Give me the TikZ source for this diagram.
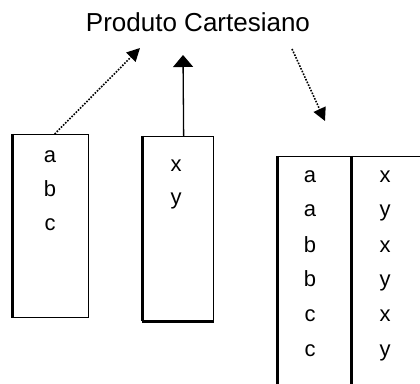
\documentclass[tikz,border=0pt]{standalone}
\usepackage{fontspec}
\setmainfont{Liberation Sans}
\usetikzlibrary{arrows.meta,calc}
\begin{document}
\begin{tikzpicture}[x=1pt,y=1pt,
  box/.style={draw, line width=1.3pt, rectangle, inner sep=0pt, anchor=north west},
  thickedge/.style={line width=3pt},
  lett/.style={font=\fontsize{22}{22}\selectfont, anchor=base, inner sep=0pt},
  dotarrow/.style={line width=1.6pt, dash pattern=on 1.6pt off 1.4pt, -{Triangle[length=13pt,width=13pt]}},
  solidarrow/.style={line width=1.3pt, -{Triangle[length=12pt,width=20pt]}},
]
\useasboundingbox (0,0) rectangle (420,383);
\fill[white] (0,0) rectangle (420,383);
\node[font=\fontsize{26}{26}\selectfont, anchor=base, inner sep=0pt] (title) at (198,351) {Produto Cartesiano};
% left box
\node[box, minimum width=76pt, minimum height=183pt] (box1) at (12,249) {};
\draw[thickedge] (box1.north west) -- (box1.south west);
\node[lett] (b1a) at (50,220) {a};
\node[lett] (b1b) at (50,186) {b};
\node[lett] (b1c) at (50,152) {c};
% middle box
\node[box, minimum width=71pt, minimum height=184pt] (box2) at (142,247) {};
\draw[thickedge] (box2.north west) -- (box2.south west);
\draw[thickedge] (box2.south west) -- (box2.south east);
\node[lett] (b2x) at (176,211) {x};
\node[lett] (b2y) at (176,178) {y};
% table
\begin{scope}
\clip (0,0) rectangle (420,383);
\node[box, minimum width=200pt, minimum height=260pt] (tab) at (277,227) {};
\draw[thickedge] (tab.north west) -- (tab.south west);
\draw[thickedge] ($(tab.north west)+(74,0)$) coordinate (dtop) -- ($(tab.south west)+(74,0)$);
\end{scope}
\node[lett] (r1a) at (310,200) {a};
\node[lett] (r2a) at (310,166) {a};
\node[lett] (r3a) at (310,131) {b};
\node[lett] (r4a) at (310,96) {b};
\node[lett] (r5a) at (310,62) {c};
\node[lett] (r6a) at (310,27) {c};
\node[lett] (r1b) at (385,200) {x};
\node[lett] (r2b) at (385,166) {y};
\node[lett] (r3b) at (385,131) {x};
\node[lett] (r4b) at (385,96) {y};
\node[lett] (r5b) at (385,62) {x};
\node[lett] (r6b) at (385,27) {y};
% arrows
\coordinate (t1) at (140,335);
\draw[dotarrow] ($(box1.north)+(4,0)$) -- (t1);
\coordinate (t2) at (183,328);
\draw[solidarrow] ($(box2.north)+(5.5,0)$) -- (t2);
\coordinate (s3) at (292,334);
\coordinate (t3) at (325,262);
\draw[dotarrow] (s3) -- (t3);
\end{tikzpicture}
\end{document}
